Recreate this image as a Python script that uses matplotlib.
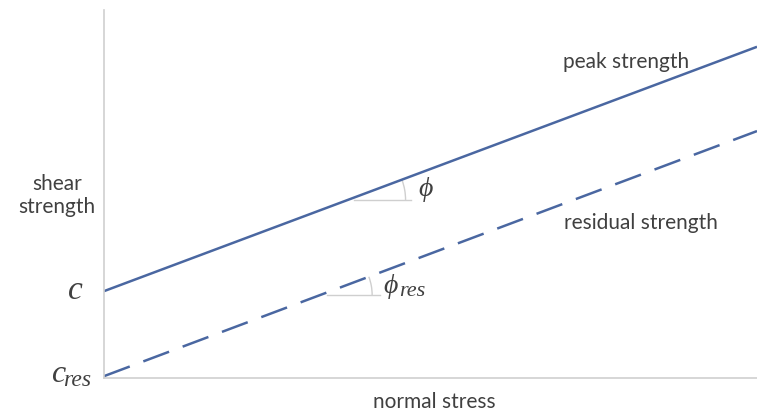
import numpy as np
import matplotlib
matplotlib.use("Agg")
import matplotlib.pyplot as plt
from matplotlib.patches import Arc

# normal stress range (arbitrary units) and strength envelopes
stress = [0.0, 10.0]
peak_strength = [2.36, 9.0]
residual_strength = [0.05, 6.71]

# where the friction-angle markers sit along each envelope
phi_at = 3.73
phi_res_at = 3.31

line_color = "#4a67a1"
grey = "#cfcfcf"
text_color = "#404040"

plt.rcParams["font.family"] = ["Lato", "DejaVu Sans"]

fig = plt.figure(figsize=(7.57, 4.12), dpi=100)
ax = fig.add_axes([104 / 757, 34 / 412, 653 / 757, 368 / 412])
ax.set_xlim(0, 10)
ax.set_ylim(0, 10)

ax.plot(stress, peak_strength, color=line_color, lw=1.8, solid_capstyle="butt")
ax.plot(stress, residual_strength, color=line_color, lw=1.8,
        linestyle=(0, (11, 5.8)), dash_capstyle="butt")

for s in ["top", "right"]:
    ax.spines[s].set_visible(False)
for s in ["left", "bottom"]:
    ax.spines[s].set_color(grey)
    ax.spines[s].set_linewidth(1.2)
ax.set_xticks([])
ax.set_yticks([])


def angle_marker(x0, envelope, length, radius):
    """Horizontal reference line plus arc showing the envelope's slope angle."""
    slope = (envelope[1] - envelope[0]) / (stress[1] - stress[0])
    y0 = envelope[0] + slope * x0
    ax.plot([x0 + 0.1, x0 + length], [y0, y0], color=grey, lw=1.0)
    # arc in pixel space so it stays circular
    p0 = ax.transData.transform((x0, y0))
    p1 = ax.transData.transform((x0 + 1, y0 + slope))
    ang = np.degrees(np.arctan2(p1[1] - p0[1], p1[0] - p0[0]))
    arc = Arc(p0, 2 * radius, 2 * radius, theta1=0, theta2=ang,
              color=grey, lw=1.0, transform=None)
    ax.add_patch(arc)
    return y0


y_phi = angle_marker(phi_at, peak_strength, 0.97, 58)
y_phi_res = angle_marker(phi_res_at, residual_strength, 0.92, 52)

math_font = dict(family="Liberation Serif", style="italic", color=text_color)
ax.text(4.93, y_phi + 0.28, "ϕ", fontsize=20, ha="center", va="center", **math_font)
ax.text(4.28, y_phi_res + 0.22, "ϕ", fontsize=20, ha="left", va="center", **math_font)
ax.text(4.52, y_phi_res + 0.1, "res", fontsize=16, ha="left", va="center", **math_font)

ax.text(-0.32, peak_strength[0], "c", fontsize=24, ha="right", va="center",
        clip_on=False, **math_font)
ax.text(-0.6, residual_strength[0] + 0.05, "c", fontsize=23, ha="right", va="center",
        clip_on=False, **math_font)
ax.text(-0.2, residual_strength[0] - 0.12, "res", fontsize=17, ha="right", va="center",
        clip_on=False, **math_font)

label = dict(fontsize=15, color=text_color)
ax.text(-0.72, 4.95, "shear\nstrength", ha="center", va="center",
        linespacing=1.2, clip_on=False, **label)
ax.text(8.0, 8.6, "peak strength", ha="center", va="center", **label)
ax.text(8.23, 4.2, "residual strength", ha="center", va="center", **label)
ax.text(5.06, -0.65, "normal stress", ha="center", va="center", clip_on=False, **label)

fig.savefig("out.png", dpi=100)
